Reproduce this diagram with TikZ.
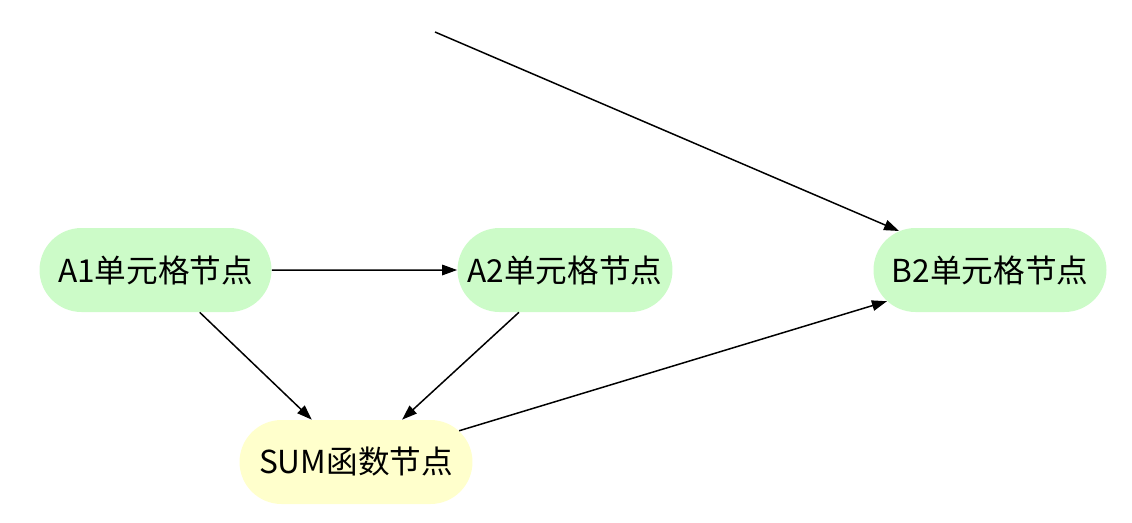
\documentclass[tikz,border=0pt]{standalone}
\usepackage{fontspec}
\setmainfont{Noto Sans CJK SC}
\usetikzlibrary{shapes.misc, arrows.meta, positioning}
\definecolor{cellgreen}{HTML}{CCFBC8}
\definecolor{funcyellow}{HTML}{FFFFCC}
\definecolor{edgeblack}{HTML}{000000}
\tikzset{
  cellnode/.style={rounded rectangle, fill=cellgreen, draw=none,
              text=black, font=\fontsize{18}{21}\selectfont, inner sep=2pt,
              minimum height=1.68cm},
  funcnode/.style={rounded rectangle, fill=funcyellow, draw=none,
              text=black, font=\fontsize{18}{21}\selectfont, inner sep=2pt,
              minimum height=1.68cm},
  dep/.style={-{Triangle[length=3mm, width=2.1mm]}, draw=edgeblack, line width=0.85pt},
}
\begin{document}
\begin{tikzpicture}[x=1cm,y=1cm]
    \useasboundingbox (0,0) rectangle (22.64,10.44);
    \node[cellnode, minimum width=4.78cm] (a1)  at (3.11,5.04)  {A1单元格节点};
    \node[cellnode, minimum width=4.44cm] (a2)  at (11.30,5.04) {A2单元格节点};
    \node[cellnode, minimum width=4.80cm] (b2)  at (19.80,5.04) {B2单元格节点};
    \node[funcnode, minimum width=4.80cm] (sum) at (7.12,1.20)  {SUM函数节点};
    \coordinate (src) at (8.70,9.80);
    \draw[dep] (a1) -- (a2);
    \draw[dep] (a1) -- (sum);
    \draw[dep] (a2) -- (sum);
    \draw[dep] (sum) -- (b2);
    \draw[dep] (src) -- (b2);
  \end{tikzpicture}
\end{document}
